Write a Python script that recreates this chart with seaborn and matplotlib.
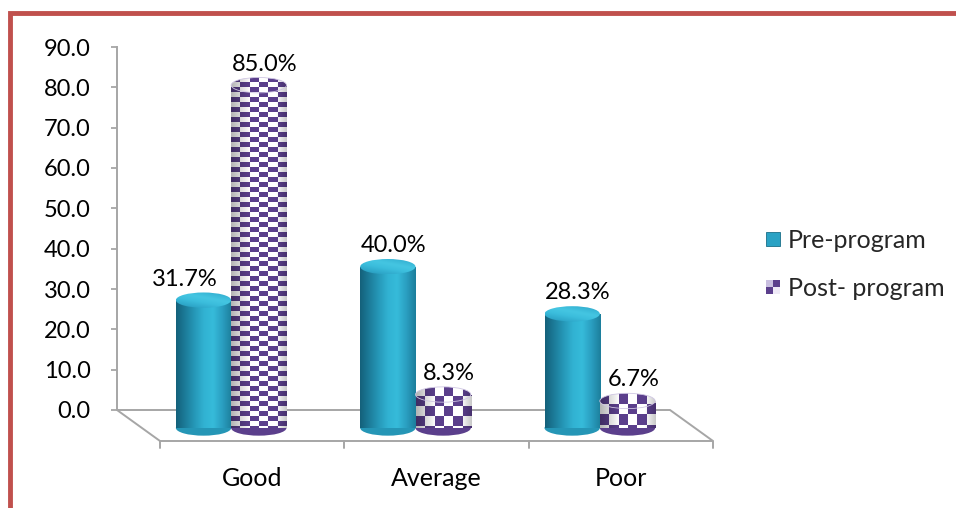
import numpy as np
import pandas as pd
import matplotlib
matplotlib.use("Agg")
import matplotlib.pyplot as plt
import matplotlib.transforms as mtransforms
from matplotlib.patches import Ellipse, Rectangle
from matplotlib.colors import LinearSegmentedColormap, ListedColormap
from matplotlib.legend_handler import HandlerBase
from matplotlib.lines import Line2D
import seaborn as sns

# ---- data -------------------------------------------------------------
categories = ["Good", "Average", "Poor"]
pre_program = [31.7, 40.0, 28.3]
post_program = [85.0, 8.3, 6.7]
series_names = ["Pre-program", "Post- program"]
y_ticks = [0, 10, 20, 30, 40, 50, 60, 70, 80, 90]

df = pd.DataFrame({
    "category": categories * 2,
    "value": pre_program + post_program,
    "series": [series_names[0]] * len(categories) + [series_names[1]] * len(categories),
})

# ---- style ------------------------------------------------------------
sns.set_theme(style="white")
plt.rcParams["font.family"] = ["Lato", "DejaVu Sans"]
FS_TICK = 17
FS_LABEL = 17
FS_TEXT = 18
TEAL = "#2596b6"
PURPLE = "#5b3f8c"
GRID_GRAY = "#a6a6a6"
DPI = 100

fig = plt.figure(figsize=(9.56, 5.08), dpi=DPI)
ax = fig.add_axes([117 / 956, 98 / 508, 553 / 956, 363 / 508])

sns.barplot(data=df, x="category", y="value", hue="series",
            order=categories, hue_order=series_names,
            palette=[TEAL, PURPLE], width=0.6, saturation=1,
            errorbar=None, legend=False, ax=ax)

ax.set_xlim(-0.5, 2.5)
ax.set_ylim(0, 90)


# pixel offsets used for the pseudo-3D depth
def px(dx, dy):
    return mtransforms.ScaledTranslation(dx / DPI, dy / DPI, fig.dpi_scale_trans)


bar_trans = ax.transData + px(22, -18)
CAP_H = 3.8  # height of cylinder end caps, in value units
px_per_unit = 363 / 90
px_per_cat = 553 / len(categories)

teal_cmap = LinearSegmentedColormap.from_list(
    "teal_cyl", ["#14607a", "#1c7c9a", "#2698b8", "#31b2d2", "#36bbda", "#2a9ec0", "#1c7e9b"])
cap_cmap = LinearSegmentedColormap.from_list(
    "teal_cap", ["#2591b2", "#2fa9cb", "#3bbddc", "#45c6e2", "#38b6d6", "#2a9dc0"])
check_cmap = ListedColormap(["#ffffff", PURPLE])
grad = np.linspace(0, 1, 256).reshape(1, -1)
vgrad = np.linspace(0, 1, 64).reshape(-1, 1) * 0.6 + grad * 0.4

# translucent shading giving the checkered cylinders some roundness
t = np.linspace(0, 1, 256)
shade = np.zeros((1, 256, 4))
shade[0, :, 3] = np.clip(0.30 * (1 - t / 0.35), 0, None) + np.clip(0.22 * (t - 0.8) / 0.2, 0, None)


def clip_image(img, extent, clip_patch, z, **kw):
    im = ax.imshow(img, extent=extent, origin="lower", aspect="auto",
                   transform=bar_trans, zorder=z, **kw)
    im.set_clip_box(None)
    im.set_clip_path(clip_patch)
    if not isinstance(clip_patch, Rectangle):
        im.set_clip_box(None)
    return im


pre_bars, post_bars = ax.containers[0], ax.containers[1]

for kind, container in (("pre", pre_bars), ("post", post_bars)):
    for bar in container:
        x0, w, h = bar.get_x(), bar.get_width(), bar.get_height()
        xc = x0 + w / 2
        bar.set_transform(bar_trans)
        bar.set_clip_on(False)
        bar.set_zorder(3)
        bar.set_edgecolor("none")
        bottom = Ellipse((xc, 0), w, CAP_H, transform=bar_trans, zorder=3,
                         facecolor=bar.get_facecolor(), edgecolor="none", clip_on=False)
        top = Ellipse((xc, h), w, CAP_H, transform=bar_trans, zorder=5,
                      facecolor="none", edgecolor="none", clip_on=False)
        ax.add_patch(bottom)
        ax.add_patch(top)
        if kind == "pre":
            ext = (x0, x0 + w, -CAP_H, h)
            clip_image(grad, ext, bar, 4, cmap=teal_cmap, interpolation="bicubic")
            clip_image(grad, ext, bottom, 4, cmap=teal_cmap, interpolation="bicubic")
            clip_image(vgrad, (x0, x0 + w, h - CAP_H / 2, h + CAP_H / 2), top, 5.5,
                       cmap=cap_cmap, interpolation="bicubic")
        else:
            h_px = h * px_per_unit
            cell_h = 5 if h_px > 100 else 10
            rows = max(3, int(round((h + CAP_H) * px_per_unit / cell_h)))
            cols = 6
            board = np.add.outer(np.arange(rows), np.arange(cols)) % 2
            ext = (x0, x0 + w, -CAP_H / 2, h + CAP_H / 2)
            for clip in (bar, bottom, top):
                z = 4 if clip is not top else 5.5
                clip_image(board, ext, clip, z, cmap=check_cmap, interpolation="nearest")
                clip_image(shade, ext, clip, z + 0.05, interpolation="bicubic")
            top.set_edgecolor("#cfc6e3")
            top.set_linewidth(0.6)
            top.set_zorder(6)

ax.set_xlim(-0.5, 2.5)
ax.set_ylim(0, 90)

# ---- value labels -------------------------------------------------------
for i, cat in enumerate(categories):
    for kind, container, vals in (("pre", pre_bars, pre_program), ("post", post_bars, post_program)):
        bar = container[i]
        v = vals[i]
        x0, w = bar.get_x(), bar.get_width()
        if kind == "pre" and post_program[i] > v:
            ax.annotate(f"{v:.1f}%", xy=(x0 + w, v), xytext=(9 * 0.72, 3 * 0.72),
                        textcoords="offset points", ha="right", va="center",
                        fontsize=FS_LABEL, color="black", zorder=8, annotation_clip=False)
        else:
            ax.annotate(f"{v:.1f}%", xy=(x0 + w / 2, v), xytext=(28 * 0.72, 3 * 0.72),
                        textcoords="offset points", ha="center", va="center",
                        fontsize=FS_LABEL, color="black", zorder=8, annotation_clip=False)

# ---- floor of the 3D box ------------------------------------------------
n = len(categories)
floor_dx = 43 / px_per_cat
floor_dy = 31 / px_per_unit
fx = [-0.5, n - 0.5, n - 0.5 + floor_dx, -0.5 + floor_dx, -0.5]
fy = [0, 0, -floor_dy, -floor_dy, 0]
ax.plot(fx, fy, color=GRID_GRAY, lw=1.4, clip_on=False, zorder=1, solid_joinstyle="miter")
tick_len = 7 / px_per_unit
for k in range(n + 1):
    xk = -0.5 + floor_dx + k
    ax.plot([xk, xk], [-floor_dy, -floor_dy - tick_len], color=GRID_GRAY, lw=1.4,
            clip_on=False, zorder=1)

for i, cat in enumerate(categories):
    ax.text(i, 0, cat, transform=ax.transData + px(43, -69), ha="center", va="center",
            fontsize=FS_TEXT, color="black")

# ---- axes styling -------------------------------------------------------
ax.set_xticks([])
ax.set_xlabel("")
ax.set_ylabel("")
ax.set_yticks(y_ticks)
ax.set_yticklabels([f"{v:.1f}" for v in y_ticks])
ax.tick_params(axis="y", length=4, width=1.3, color=GRID_GRAY, pad=15,
               labelsize=FS_TICK, labelcolor="black", left=True)
for side in ("top", "right", "bottom"):
    ax.spines[side].set_visible(False)
ax.spines["left"].set_color(GRID_GRAY)
ax.spines["left"].set_linewidth(1.4)
ax.patch.set_alpha(0)


# ---- legend -------------------------------------------------------------
class CheckerHandler(HandlerBase):
    def create_artists(self, legend, orig_handle, xdescent, ydescent,
                       width, height, fontsize, trans):
        s = height
        x = -xdescent + (width - s) / 2
        y = -ydescent
        half = s / 2
        cols = [["#c9bfe0", "#5b3f8c"], ["#5b3f8c", "#efeaf7"]]
        arts = []
        for r in range(2):
            for c in range(2):
                arts.append(Rectangle((x + c * half, y + (1 - r) * half), half, half,
                                      facecolor=cols[r][c], edgecolor="none", transform=trans))
        return arts


class SquareHandler(HandlerBase):
    def create_artists(self, legend, orig_handle, xdescent, ydescent,
                       width, height, fontsize, trans):
        s = height
        x = -xdescent + (width - s) / 2
        y = -ydescent
        return [Rectangle((x, y), s, s, facecolor="#2aa2c4", edgecolor="#1a6f88",
                          lw=0.6, transform=trans)]


h_pre = Rectangle((0, 0), 1, 1)
h_post = Ellipse((0, 0), 1, 1)
leg = fig.legend([h_pre, h_post], series_names,
                 handler_map={Rectangle: SquareHandler(), Ellipse: CheckerHandler()},
                 loc="center left", bbox_to_anchor=(767 / 956, 1 - 264 / 508),
                 frameon=False, fontsize=FS_TEXT, handlelength=0.5, handleheight=0.5,
                 handletextpad=0.35, labelspacing=1.0, borderpad=0, borderaxespad=0)

# ---- outer border -------------------------------------------------------
bx = 10 / 956
by = 1 - 12.5 / 508
fig.add_artist(Line2D([bx, bx, 1.0], [0.0, by, by], transform=fig.transFigure,
                      color="#c0504d", lw=3.5, solid_joinstyle="miter"))

fig.savefig("out.png", dpi=DPI)
